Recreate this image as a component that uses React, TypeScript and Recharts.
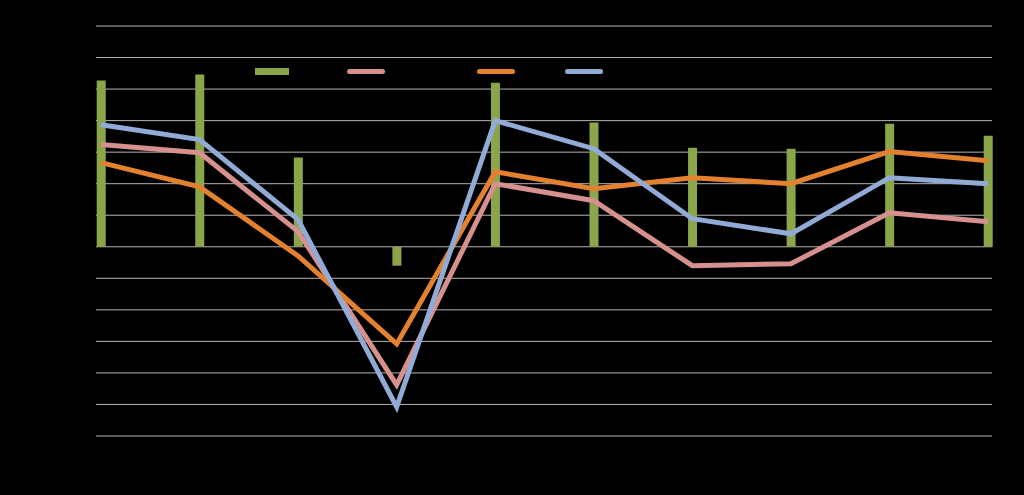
import React from 'react';
import {
  ComposedChart, Bar, Line, XAxis, YAxis, CartesianGrid,
} from 'recharts';

// Category labels (rendered in black on black like the original)
const years = ['2004', '2005', '2006', '2007', '2008', '2009', '2010', '2011', '2012', '2013'];

// Series values (one gridline = 1 unit)
const barValues = [5.27, 5.46, 2.83, -0.6, 5.2, 3.94, 3.14, 3.11, 3.9, 3.52];
const pinkValues = [3.24, 2.98, 0.48, -4.38, 2.0, 1.46, -0.6, -0.54, 1.08, 0.79];
const orangeValues = [2.67, 1.9, -0.29, -3.08, 2.38, 1.84, 2.19, 2.0, 3.02, 2.73];
const blueValues = [3.87, 3.4, 0.86, -5.08, 4.0, 3.11, 0.89, 0.41, 2.19, 2.0];

const yTicks = [-6, -5, -4, -3, -2, -1, 0, 1, 2, 3, 4, 5, 6, 7];
const xTicks = years.map((_, i) => i);

const seriesNames = ['Total', 'Series A', 'Series B', 'Series C'];

const GREEN = '#8BA64A';
const PINK = '#D6908E';
const ORANGE = '#E4812F';
const BLUE = '#91ABD6';

const data = years.map((y, i) => ({
  i,
  year: y,
  bar: barValues[i],
  pink: pinkValues[i],
  orange: orangeValues[i],
  blue: blueValues[i],
}));

function LegendBox() {
  const items = [
    { name: seriesNames[0], color: GREEN, left: 255, rect: true },
    { name: seriesNames[1], color: PINK, left: 347 },
    { name: seriesNames[2], color: ORANGE, left: 477 },
    { name: seriesNames[3], color: BLUE, left: 565 },
  ];
  return (
    <div style={{ position: 'absolute', left: 0, top: 66, width: 1024, height: 10, pointerEvents: 'none' }}>
      {items.map((it) => (
        <div
          key={it.name}
          style={{ position: 'absolute', left: it.left, top: 0, display: 'flex', alignItems: 'center', height: 10 }}
        >
          <div
            style={{
              width: it.rect ? 34 : 38,
              height: it.rect ? 7 : 5,
              background: it.color,
              borderRadius: it.rect ? 0 : 3,
            }}
          />
          <span style={{ color: '#000', fontSize: 13, marginLeft: 6, fontFamily: 'Calibri, Carlito, "Liberation Sans", sans-serif' }}>
            {it.name}
          </span>
        </div>
      ))}
    </div>
  );
}

export default function App() {
  return (
    <div style={{ position: 'absolute', left: 0, top: 0, width: 1024, height: 495, background: '#000' }}>
      <ComposedChart
        width={1024}
        height={495}
        data={data}
        margin={{ top: 26, right: 32, left: 36, bottom: 29 }}
        style={{ fontFamily: 'Calibri, Carlito, "Liberation Sans", sans-serif' }}
      >
        <CartesianGrid vertical={false} stroke="#b4b4b4" strokeWidth={1} />
        <XAxis
          type="number"
          dataKey="i"
          domain={[0, 9]}
          ticks={xTicks}
          tickFormatter={(v: number) => years[v]}
          padding={{ left: 5, right: 4 }}
          axisLine={false}
          tickLine={false}
          height={30}
          tick={{ fill: '#000', fontSize: 13 }}
        />
        <YAxis
          domain={[-6, 7]}
          ticks={yTicks}
          axisLine={false}
          tickLine={false}
          width={60}
          tick={{ fill: '#000', fontSize: 13 }}
        />
        <Bar dataKey="bar" name={seriesNames[0]} fill={GREEN} barSize={9} isAnimationActive={false} />
        <Line
          type="linear"
          dataKey="pink"
          name={seriesNames[1]}
          stroke={PINK}
          strokeWidth={5}
          dot={false}
          isAnimationActive={false}
        />
        <Line
          type="linear"
          dataKey="orange"
          name={seriesNames[2]}
          stroke={ORANGE}
          strokeWidth={5}
          dot={false}
          isAnimationActive={false}
        />
        <Line
          type="linear"
          dataKey="blue"
          name={seriesNames[3]}
          stroke={BLUE}
          strokeWidth={5}
          dot={false}
          isAnimationActive={false}
        />
      </ComposedChart>
      <LegendBox />
    </div>
  );
}
